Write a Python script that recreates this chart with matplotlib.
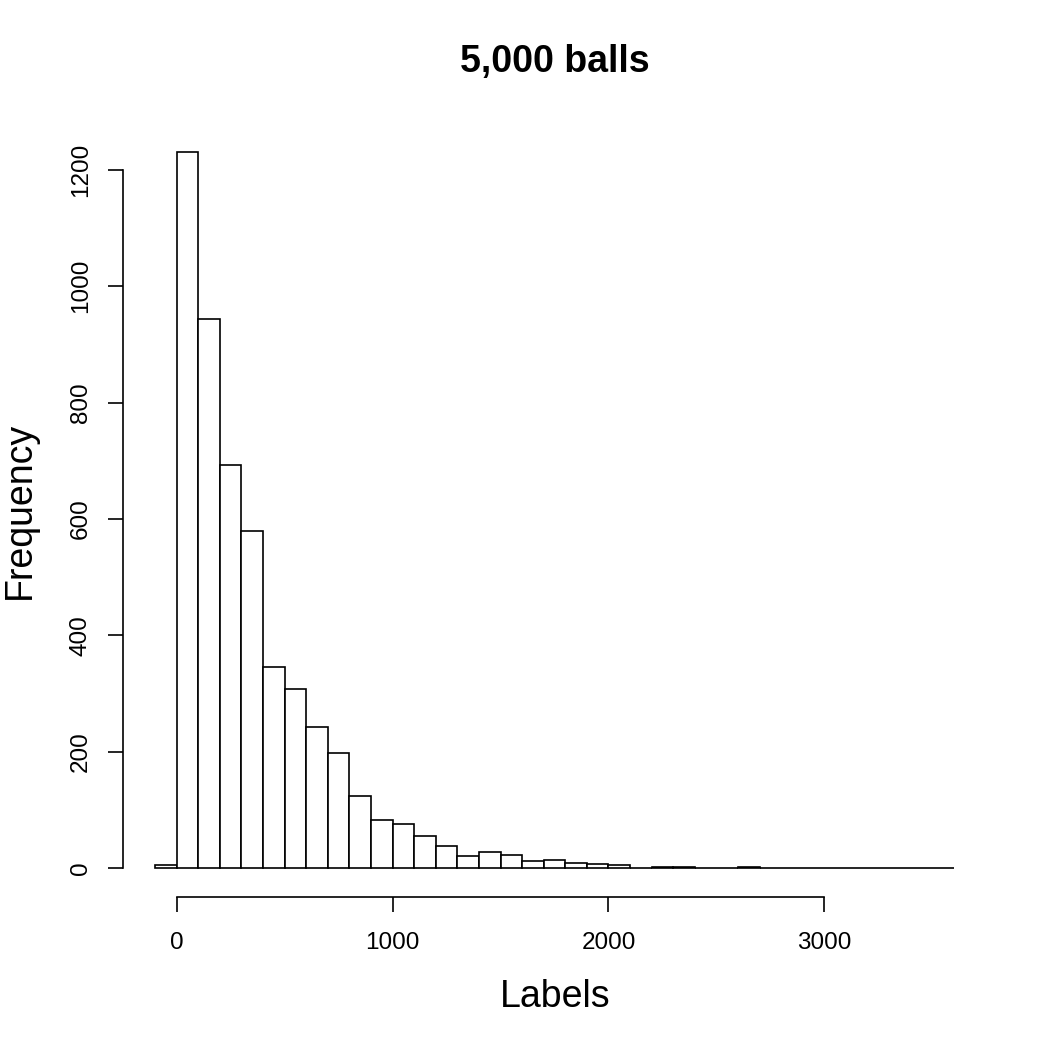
import matplotlib
matplotlib.use("Agg")
import matplotlib.pyplot as plt
import numpy as np

plt.rcParams['font.family'] = ['Liberation Sans', 'DejaVu Sans']

bin_edges = list(range(-100, 3700, 100))
counts = [5, 1231, 944, 693, 579, 346, 308, 242, 198, 124, 83, 77, 55, 38, 22,
          28, 23, 12, 14, 9, 7, 5, 1, 2, 2, 1, 0, 2, 1, 0, 0, 0, 1, 1, 0, 0, 1]
x_ticks = [0, 1000, 2000, 3000]
y_ticks = [0, 200, 400, 600, 800, 1000, 1200]
title = "5,000 balls"
xlabel = "Labels"
ylabel = "Frequency"

W = H = 1050
fig = plt.figure(figsize=(10.5, 10.5), dpi=100)
left, right, top, bottom = 123, 986, 123, 897
ax = fig.add_axes([left / W, 1 - bottom / H, (right - left) / W, (bottom - top) / H])

lefts = np.array(bin_edges[:-1])
widths = np.diff(bin_edges)
ax.bar(lefts, counts, width=widths, align='edge', facecolor='white',
       edgecolor='black', linewidth=1.2)

xr = bin_edges[-1] - bin_edges[0]
ax.set_xlim(bin_edges[0] - 0.04 * xr, bin_edges[-1] + 0.04 * xr)
ymax = max(counts)
ax.set_ylim(-0.04 * ymax, ymax * 1.04)

for s in ['top', 'right']:
    ax.spines[s].set_visible(False)
ax.spines['left'].set_bounds(y_ticks[0], y_ticks[-1])
ax.spines['bottom'].set_bounds(x_ticks[0], x_ticks[-1])
for s in ['left', 'bottom']:
    ax.spines[s].set_linewidth(1.2)

ax.set_xticks(x_ticks)
ax.set_yticks(y_ticks)
ax.set_yticklabels([str(v) for v in y_ticks], rotation=90, va='center')
ax.tick_params(axis='both', length=10.5, width=1.2, labelsize=17.5)
ax.tick_params(axis='x', pad=15)
ax.tick_params(axis='y', pad=12)

fig.text(555 / W, 1 - 62 / H, title, ha='center', va='center', fontsize=27, fontweight='bold')
fig.text(555 / W, 1 - 997 / H, xlabel, ha='center', va='center', fontsize=27)
fig.text(20 / W, 1 - 510 / H, ylabel, ha='center', va='center', fontsize=27, rotation=90)

fig.savefig("out.png", dpi=100, facecolor='white')
